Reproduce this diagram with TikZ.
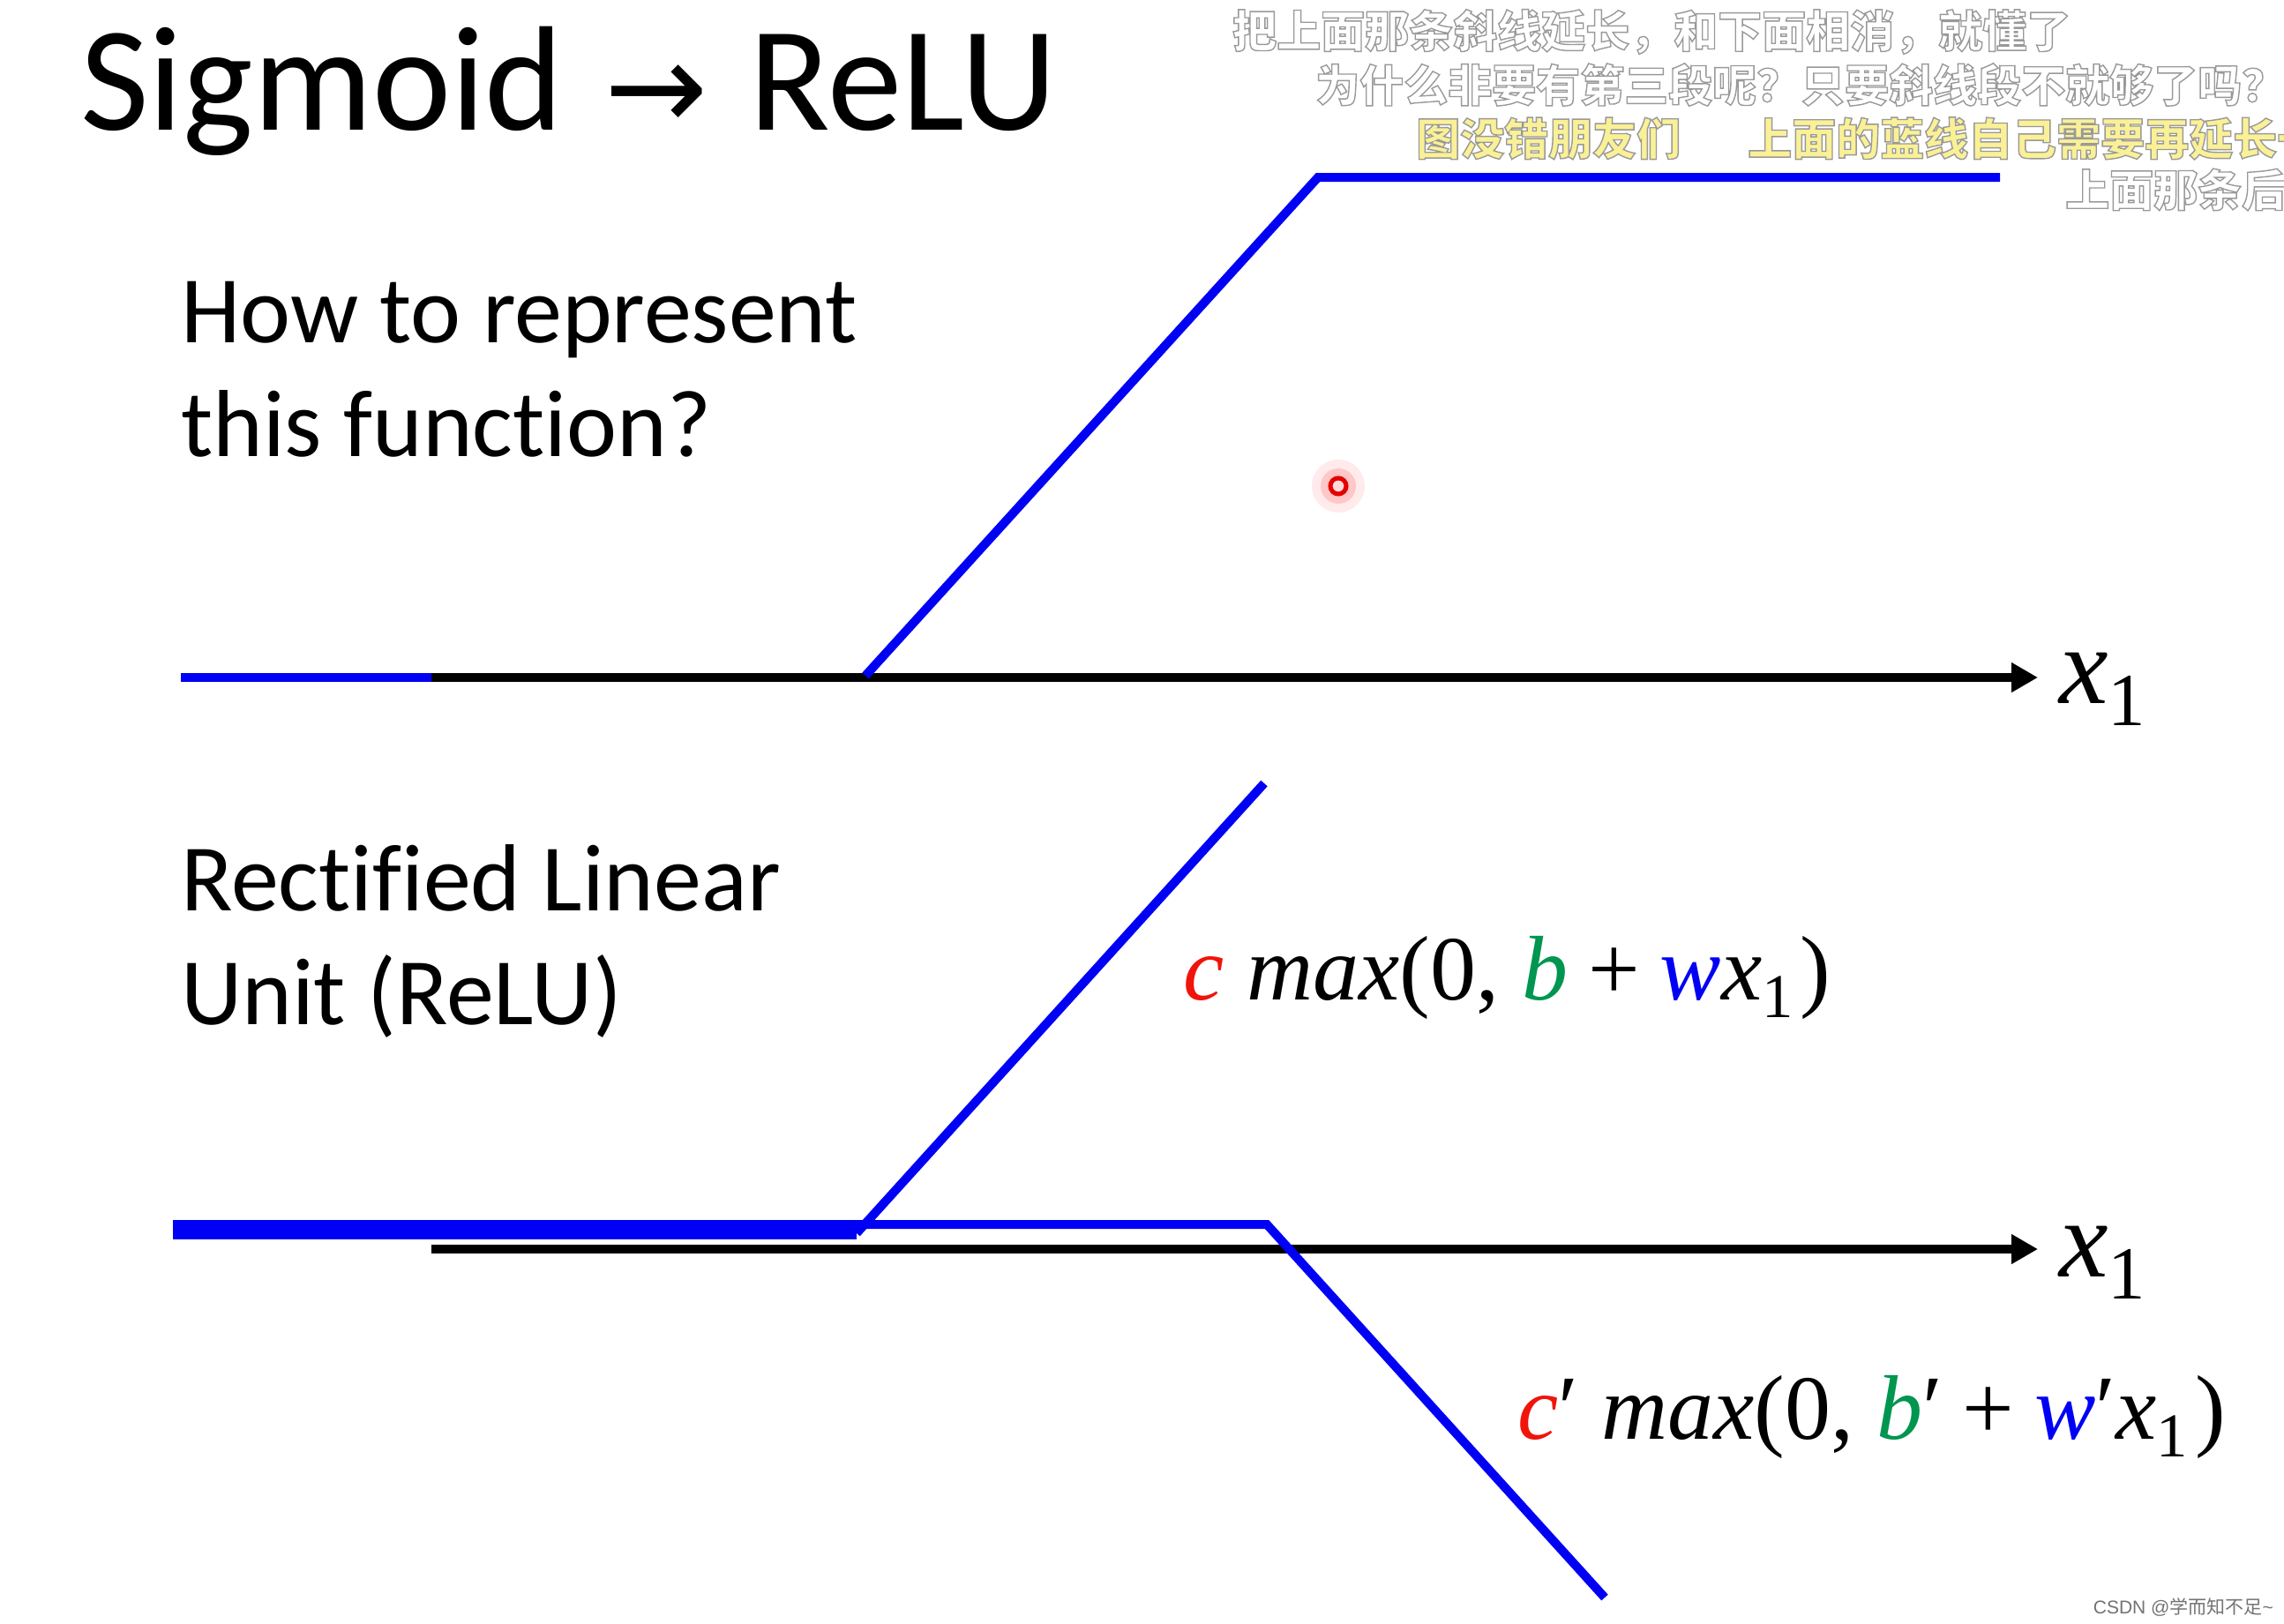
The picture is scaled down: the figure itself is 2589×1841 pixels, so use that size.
\documentclass[tikz,border=0pt]{standalone}
\usepackage{fontspec}
\setmainfont{Carlito}[Ligatures=NoCommon]
\newfontfamily\cjk{Noto Sans CJK SC}
\newfontfamily\mathf{Liberation Serif}
\newfontfamily\arrowf{DejaVu Sans}
\newfontfamily\wmfont{Liberation Sans}
\usetikzlibrary{arrows.meta}
\definecolor{fblue}{RGB}{0,0,245}
\definecolor{cred}{RGB}{240,20,10}
\definecolor{cgreen}{RGB}{0,150,80}
\definecolor{subyellow}{RGB}{250,240,150}
\newcommand\outltxt[1]{\special{pdf:literal 2 Tr 1.4 w 0.6 G}#1\special{pdf:literal 0 Tr}}
\newcommand\fsubscr[1]{\raisebox{-0.2em}{\upshape\fontsize{0.68em}{0.75em}\selectfont #1}}
\newcommand\fplus{\hspace{0.22em}+\hspace{0.22em}}
\begin{document}
\begin{tikzpicture}[x=1pt,y=-1pt,
  axis/.style={black, line width=10pt, -{Triangle[length=30pt,width=32pt]}},
  fn/.style={fblue, line width=10pt, line join=miter},
  bigtext/.style={anchor=base west, inner sep=0pt, align=left, font=\fontsize{108}{129}\selectfont},
  formula/.style={anchor=base west, inner sep=0pt, font=\mathf\fontsize{104}{110}\selectfont},
  xlab/.style={anchor=base west, inner sep=0pt, font=\mathf\itshape\fontsize{125}{130}\selectfont},
  sub/.style={anchor=west, inner sep=0pt, text=white, font=\cjk\bfseries\fontsize{50}{55}\selectfont}]
\useasboundingbox (0,0) rectangle (2589,1841);
\fill[white] (0,0) rectangle (2589,1841);

% title and texts
\node[anchor=base west, inner sep=0pt, font=\fontsize{169}{190}\selectfont] (title) at (91,147)
  {Sigmoid\hspace{0.05em} {\arrowf\fontsize{140}{150}\selectfont →}\hspace{0.05em} ReLU};
\node[bigtext] (q) at (205,517) {How to represent\\this function?};
\node[bigtext] (relu) at (205,1161) {Rectified Linear\\Unit (ReLU)};

% top graph
\coordinate (ta0) at (205,768);
\coordinate (ta1) at (489,768);
\coordinate (ta2) at (2310,768);
\draw[fn, line cap=butt] (ta0) -- (ta1);
\draw[axis] (ta1) -- (ta2);
\coordinate (tf0) at (981,766);
\coordinate (tf1) at (1494,201);
\coordinate (tf2) at (2267,201);
\draw[fn] (tf0) -- (tf1) -- (tf2);
\node[xlab] (x1top) at (2334,797) {x\fsubscr{1}};

% bottom graph
\coordinate (ba1) at (489,1416);
\coordinate (ba2) at (2310,1416);
\draw[axis] (ba1) -- (ba2);
\coordinate (r1a) at (196,1398);
\coordinate (r1b) at (971,1398);
\coordinate (r1c) at (1433,888);
\coordinate (r2a) at (196,1388);
\coordinate (r2b) at (1436,1388);
\coordinate (r2c) at (1819,1811);
\draw[fn, line width=13pt] (r1a) -- (r1b);
\draw[fn] (r1b) -- (r1c);
\draw[fn] (r2a) -- (r2b) -- (r2c);
\node[xlab] (x1bot) at (2334,1447) {x\fsubscr{1}};

\node[formula] (f1) at (1341,1133)
  {{\itshape\color{cred}c}\ {\itshape max}(0,\ {\itshape\color{cgreen}b}\fplus{\itshape\color{fblue}w}{\itshape x}\fsubscr{1}\hspace{0.08em})};
\node[formula] (f2) at (1720,1631)
  {{\itshape\color{cred}c}′\ {\itshape max}(0,\ {\itshape\color{cgreen}b}′\fplus{\itshape\color{fblue}w}′{\itshape x}\fsubscr{1}\hspace{0.08em})};

% pointer dot
\fill[red, opacity=0.08] (1517,551) circle (30);
\fill[red, opacity=0.15] (1517,551) circle (20);
\draw[red!90!black, line width=5pt] (1517,551) circle (9);
\fill[red!15] (1517,551) circle (6);

% subtitles
\node[sub] (s1) at (1397,36) {\outltxt{把上面那条斜线延长，和下面相消，就懂了}};
\node[sub] (s2) at (1491,96) {\outltxt{为什么非要有第三段呢？只要斜线段不就够了吗？}};
\node[sub, text=subyellow] (s3) at (1605,157) {\outltxt{图没错朋友们\hspace{76pt}上面的蓝线自己需要再延长一}};
\node[sub] (s4) at (2341,215) {\outltxt{上面那条后}};

% watermark
\node[anchor=east, inner sep=0pt, text=black!55, font=\wmfont\fontsize{21}{24}\selectfont] (wm) at (2577,1822)
  {CSDN @{\cjk 学而知不足}\textasciitilde};
\end{tikzpicture}
\end{document}
